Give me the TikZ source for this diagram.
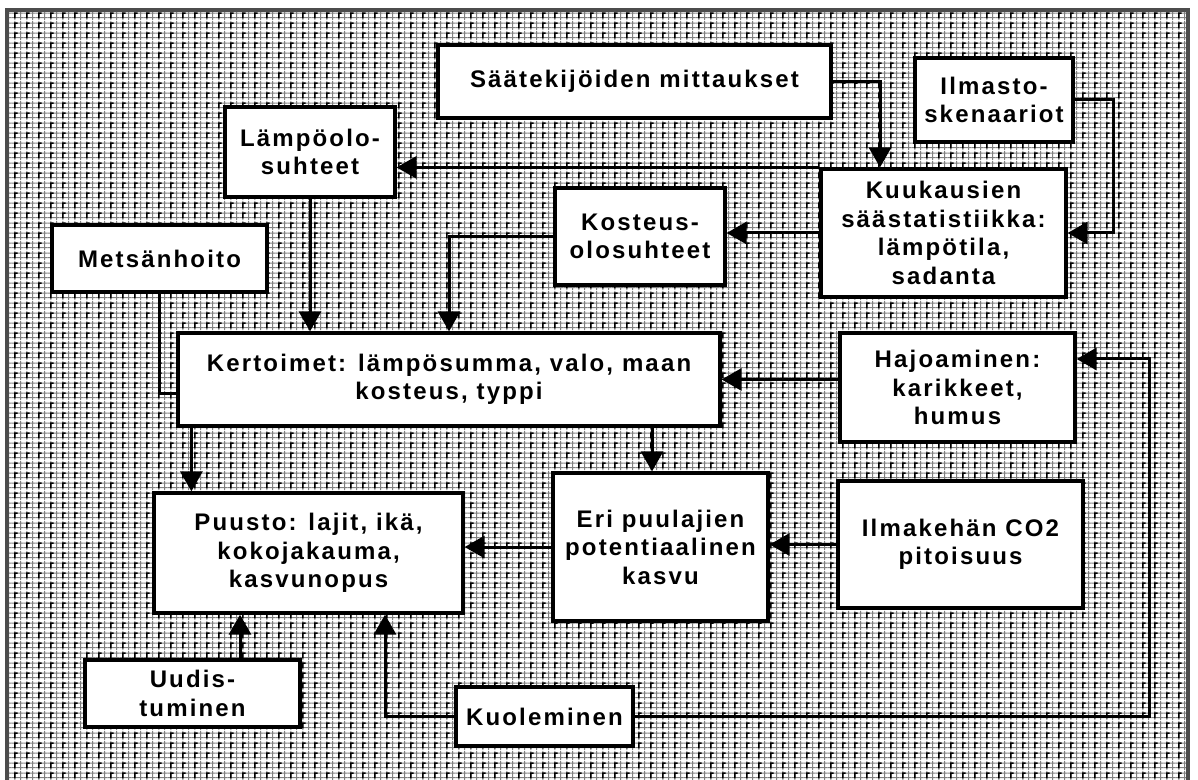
\documentclass[tikz,border=0pt]{standalone}
\usepackage{fontspec}
\setmainfont{Liberation Sans}[LetterSpace=9]
\usetikzlibrary{arrows.meta,patterns}

\pgfdeclarepatterninherentlycolored{meshbg}
{\pgfpointorigin}{\pgfqpoint{6.15pt}{4.8pt}}
{\pgfqpoint{6.15pt}{4.8pt}}
{
  \pgfsetfillcolor{white}
  \pgfpathrectangle{\pgfpointorigin}{\pgfqpoint{6.15pt}{4.8pt}}
  \pgfusepath{fill}
  \pgfsetstrokecolor{black!50}
  \pgfsetlinewidth{0.5pt}
  \pgfpathmoveto{\pgfqpoint{0pt}{1.2pt}}\pgfpathlineto{\pgfqpoint{6.15pt}{1.2pt}}
  \pgfpathmoveto{\pgfqpoint{0pt}{3.6pt}}\pgfpathlineto{\pgfqpoint{6.15pt}{3.6pt}}
  \pgfpathmoveto{\pgfqpoint{1.5pt}{0pt}}\pgfpathlineto{\pgfqpoint{1.5pt}{4.8pt}}
  \pgfpathmoveto{\pgfqpoint{4.6pt}{0pt}}\pgfpathlineto{\pgfqpoint{4.6pt}{4.8pt}}
  \pgfusepath{stroke}
  \pgfsetstrokecolor{black}
  \pgfsetlinewidth{0.7pt}
  \pgfpathmoveto{\pgfqpoint{1.5pt}{0.9pt}}\pgfpathlineto{\pgfqpoint{1.5pt}{3.6pt}}
  \pgfpathlineto{\pgfqpoint{3.0pt}{3.6pt}}
  \pgfusepath{stroke}
}

\tikzset{
  box/.style={draw, line width=1.6pt, fill=white, align=center, inner sep=0pt,
    font=\bfseries\fontsize{12}{14.25}\selectfont},
  link/.style={line width=1.5pt},
  arr/.style={link, -{Triangle[length=10pt,width=11pt]}}
}

\begin{document}
\begin{tikzpicture}[x=0.5pt, y=-0.5pt]
    \useasboundingbox (0, 0) rectangle (1198, 780);
    \draw[line width=1.8pt, black!70, pattern=meshbg] (7, 10) rectangle (1188, 790);

    \node[box, minimum width=196.5pt, minimum height=36.5pt] (saa) at (634.5, 81.5) {Säätekijöiden mittaukset};
    \node[box, minimum width=79pt, minimum height=42pt] (ilm) at (994, 100) {Ilmasto-\\skenaariot};
    \node[box, minimum width=122.5pt, minimum height=64pt] (kuu) at (943.5, 233) {Kuukausien\\säästatistiikka:\\lämpötila,\\sadanta};
    \node[box, minimum width=85pt, minimum height=45pt] (lam) at (310, 152) {Lämpöolo-\\suhteet};
    \node[box, minimum width=85pt, minimum height=48.5pt] (kos) at (640, 236.5) {Kosteus-\\olosuhteet};
    \node[box, minimum width=107.5pt, minimum height=33.5pt] (met) at (159.5, 258.5) {Metsänhoito};
    \node[box, minimum width=271pt, minimum height=46.5pt] (ker) at (449, 379.5) {Kertoimet: lämpösumma, valo, maan\\kosteus, typpi};
    \node[box, minimum width=117.5pt, minimum height=54.5pt] (haj) at (957.5, 387.5) {Hajoaminen:\\karikkeet,\\humus};
    \node[box, minimum width=154.5pt, minimum height=60pt] (puu) at (308.5, 553) {Puusto: lajit, ikä,\\kokojakauma,\\kasvunopus};
    \node[box, minimum width=107.5pt, minimum height=74pt] (eri) at (660.5, 547) {Eri puulajien\\potentiaalinen\\kasvu};
    \node[box, minimum width=122.5pt, minimum height=63.5pt] (co2) at (960.5, 544.5) {Ilmakehän CO2\\pitoisuus};
    \node[box, minimum width=107.5pt, minimum height=33.5pt] (uud) at (192.5, 693.5) {Uudis-\\tuminen};
    \node[box, minimum width=88.5pt, minimum height=29.5pt] (kuo) at (544.5, 716.5) {Kuoleminen};

    \draw[arr] (saa.east) -| ([xshift=-31.75pt]kuu.north);
    \draw[arr] (ilm.east) -- ++(39, 0) |- (kuu.east);
    \draw[arr] (kuu.north west) -- (kuu.north west -| lam.east);
    \draw[arr] (kuu.west) -- (kuu.west -| kos.east);
    \draw[arr] (kos.west) -| (ker.north);
    \draw[arr] (lam.south) -- (lam.south |- ker.north);
    \draw[link] (met.south) |- ([yshift=-6.75pt]ker.west);
    \draw[arr] ([xshift=7.5pt]ker.south west) -- ([xshift=7.5pt]ker.south west |- puu.north);
    \draw[arr] ([xshift=-4.25pt]eri.north |- ker.south) -- ([xshift=-4.25pt]eri.north);
    \draw[arr] (haj.west |- ker.east) -- (ker.east);
    \draw[arr] (co2.west) -- (co2.west -| eri.east);
    \draw[arr] (eri.west) -- (eri.west -| puu.east);
    \draw[arr] ([xshift=23.75pt]uud.north) -- ([xshift=23.75pt]uud.north |- puu.south);
    \draw[arr] (kuo.west) -| ([xshift=38.25pt]puu.south);
    \draw[arr] (kuo.east) -- ++(515, 0) |- ([yshift=14.25pt]haj.east);
\end{tikzpicture}
\end{document}
